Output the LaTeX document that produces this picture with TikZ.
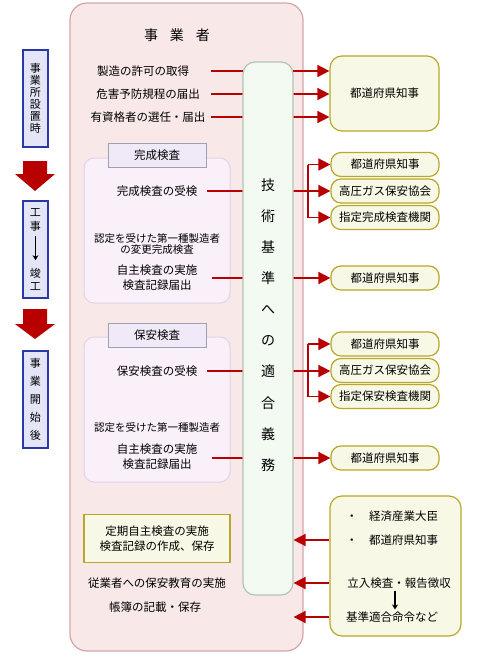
\documentclass[tikz,border=0pt]{standalone}
\usepackage{fontspec}
\setmainfont{Noto Sans CJK JP}
\usetikzlibrary{arrows.meta}
\definecolor{mainfill}{HTML}{F8E8E8}
\definecolor{mainedge}{HTML}{D4A4AC}
\definecolor{grfill}{HTML}{F2FAF2}
\definecolor{gredge}{HTML}{B4C4B4}
\definecolor{yfill}{HTML}{F8F8E6}
\definecolor{yedge}{HTML}{B8A828}
\definecolor{lavfill}{HTML}{F9F0F9}
\definecolor{lavedge}{HTML}{E2D2EA}
\definecolor{lblfill}{HTML}{F0EAF8}
\definecolor{lbledge}{HTML}{A0A0B0}
\definecolor{sbfill}{HTML}{E4E6F8}
\definecolor{sbedge}{HTML}{2838A8}
\definecolor{arr}{HTML}{B80000}
\tikzset{
  txt/.style={inner sep=0pt, align=center, font=\fontsize{11.5}{15}\selectfont},
  stxt/.style={inner sep=0pt, align=center, font=\fontsize{10.5}{11}\selectfont},
  ln/.style={draw=arr, line width=1.6pt},
  ar/.style={ln, -{Triangle[length=12pt,width=12pt]}},
  govbox/.style={draw=yedge, fill=yfill, line width=1.2pt, rounded corners=10pt,
    minimum width=108pt, minimum height=24pt, inner sep=0pt, font=\fontsize{11.5}{14}\selectfont},
  inbox/.style={draw=lavedge, fill=lavfill, line width=1pt, rounded corners=10pt,
    minimum width=146pt, minimum height=145pt, inner sep=0pt},
  lblbox/.style={draw=lbledge, fill=lblfill, line width=1pt, minimum width=98pt,
    minimum height=24pt, inner sep=0pt, font=\fontsize{11.5}{14}\selectfont},
  sidebox/.style={draw=sbedge, fill=sbfill, line width=1.2pt, minimum width=25pt,
    minimum height=97pt, inner sep=0pt, align=center},
  thinarr/.style={draw=black, line width=1.2pt, -{Stealth[length=5pt,width=6pt]}}
}
\begin{document}
\begin{tikzpicture}[x=1pt,y=-1pt]
\useasboundingbox (0,0) rectangle (480,654);

% main box
\node[draw=mainedge, fill=mainfill, line width=1.2pt, rounded corners=17pt,
  minimum width=233pt, minimum height=648pt, inner sep=0pt] (main) at (186.5,327) {};
\node[inner sep=0pt, font=\fontsize{14}{16}\selectfont] (ttl) at (177,35) {事\hspace{12pt}業\hspace{12pt}者};

% sidebar
\node[sidebox, font=\fontsize{11}{12}\selectfont] (sb1) at (35.5,98.5) {事\\業\\所\\設\\置\\時};
\fill[arr] (23,161) -- (47,161) -- (47,174) -- (55,174) -- (35,191) -- (15,174) -- (23,174) -- cycle;
\node[sidebox] (sb2) at (35.5,249.5) {};
\node[inner sep=0pt, align=center, font=\fontsize{11}{14}\selectfont] (kj) at (35.5,220) {工\\事};
\node[inner sep=0pt, align=center, font=\fontsize{11}{13}\selectfont] (ks) at (35.5,279.5) {竣\\工};
\draw[thinarr, shorten <=4pt, shorten >=8pt] (kj.south) -- (ks.north);
\fill[arr] (23,309) -- (47,309) -- (47,324) -- (55,324) -- (35,339) -- (15,324) -- (23,324) -- cycle;
\node[sidebox, font=\fontsize{11}{18}\selectfont] (sb3) at (35.5,399.5) {事\\業\\開\\始\\後};

% top section
\node[txt] (t1) at (143,71) {製造の許可の取得};
\node[txt] (t2) at (148,94) {危害予防規程の届出};
\node[txt] (t3) at (148,117) {有資格者の選任・届出};
\node[govbox, minimum height=75pt, minimum width=109pt, rounded corners=12pt] (gov1) at (384.5,93.5) {都道府県知事};
\coordinate (s1) at (211,71);
\coordinate (s2) at (211,94);
\coordinate (s3) at (211,117);
\draw[ar] (s1) -- (s1 -| gov1.west);
\draw[ar] (s2) -- (s2 -| gov1.west);
\draw[ar] (s3) -- (s3 -| gov1.west);

% completion inspection
\node[inbox] (in1) at (157,230.5) {};
\node[lblbox] (lbl1) at (157,155) {完成検査};
\node[txt] (t4) at (157,191) {完成検査の受検};
\node[stxt] (t5) at (157,244) {認定を受けた第一種製造者\\の変更完成検査};
\node[txt] (t6) at (157,277.5) {自主検査の実施\\検査記録届出};
\node[govbox] (b1) at (385,164.5) {都道府県知事};
\node[govbox] (b2) at (385,191) {高圧ガス保安協会};
\node[govbox] (b3) at (385,217.5) {指定完成検査機関};
\node[govbox] (b4) at (385,278) {都道府県知事};
\coordinate (s4) at (207,191);
\coordinate (j1) at (308,191);
\coordinate (s5) at (212,278);
\draw[ln] (s4) -- (j1);
\draw[ln] (j1 |- b1.west) -- (j1 |- b3.west);
\draw[ar] (j1 |- b1.west) -- (b1.west);
\draw[ar] (j1) -- (j1 -| b2.west);
\draw[ar] (j1 |- b3.west) -- (b3.west);
\draw[ar] (s5) -- (s5 -| b4.west);

% safety inspection
\node[inbox] (in2) at (157,409.5) {};
\node[lblbox] (lbl2) at (157,335) {保安検査};
\node[txt] (t7) at (157,371) {保安検査の受検};
\node[stxt] (t8) at (157,428) {認定を受けた第一種製造者};
\node[txt] (t9) at (157,457) {自主検査の実施\\検査記録届出};
\node[govbox] (b5) at (385,344) {都道府県知事};
\node[govbox] (b6) at (385,370.5) {高圧ガス保安協会};
\node[govbox] (b7) at (385,396.5) {指定保安検査機関};
\node[govbox] (b8) at (385,458) {都道府県知事};
\coordinate (s6) at (207,371);
\coordinate (j2) at (308,371);
\coordinate (s7) at (212,458);
\draw[ln] (s6) -- (j2);
\draw[ln] (j2 |- b5.west) -- (j2 |- b7.west);
\draw[ar] (j2 |- b5.west) -- (b5.west);
\draw[ar] (j2) -- (j2 -| b6.west);
\draw[ar] (j2 |- b7.west) -- (b7.west);
\draw[ar] (s7) -- (s7 -| b8.west);

% bottom
\node[draw=yedge, fill=yfill, line width=1.2pt, minimum width=146pt, minimum height=48pt,
  inner sep=0pt, align=center, font=\fontsize{11.5}{15}\selectfont] (yb) at (157,538.5) {定期自主検査の実施\\検査記録の作成、保存};
\node[txt] (t10) at (157,583) {従業者への保安教育の実施};
\node[txt] (t11) at (155,607) {帳簿の記載・保存};
\node[draw=yedge, fill=yfill, line width=1.2pt, rounded corners=12pt, minimum width=131pt,
  minimum height=140pt, inner sep=0pt] (bigR) at (395.5,566) {};
\node[txt, anchor=west] (r1) at (346,516) {・　経済産業大臣};
\node[txt, anchor=west] (r2) at (346,540) {・　都道府県知事};
\node[txt] (r3) at (399,583) {立入検査・報告徴収};
\node[txt, anchor=west] (r4) at (346,617) {基準適合命令など};
\coordinate (ax) at (395,600);
\draw[thinarr, shorten <=2pt, shorten >=2pt] (r3.south -| ax) -- (r4.north -| ax);

% green box (over the lines)
\node[draw=gredge, fill=grfill, line width=1.2pt, rounded corners=12pt, minimum width=50pt,
  minimum height=533pt, inner sep=0pt] (green) at (268,328.5) {};
\node[inner sep=0pt, align=center, font=\fontsize{14}{31.1}\selectfont] (gtext) at (268,325)
  {技\\術\\基\\準\\へ\\の\\適\\合\\義\\務};

\draw[ar] (bigR.west |- r2) -- (green.east |- r2);
\draw[ar] (bigR.west |- r3) -- (green.east |- r3);
\draw[ar] (bigR.west |- r4) -- (green.east |- r4);
\end{tikzpicture}
\end{document}
